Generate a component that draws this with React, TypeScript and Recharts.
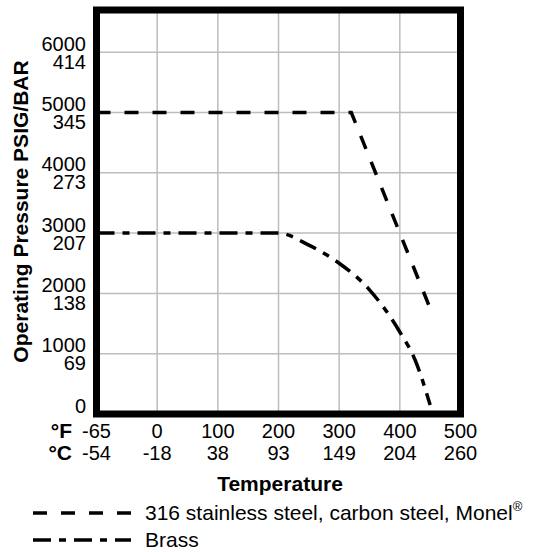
import React from 'react';
import { LineChart, Line, XAxis, YAxis, CartesianGrid, ReferenceArea, Legend, Label } from 'recharts';

// Axis tick labels (evenly spaced temperature slots)
const tickSlots = [0, 1, 2, 3, 4, 5, 6];
const tempLabelsF = ['-65', '0', '100', '200', '300', '400', '500'];
const tempLabelsC = ['-54', '-18', '38', '93', '149', '204', '260'];
const psigTicks = [0, 1000, 2000, 3000, 4000, 5000, 6000];
const psigLabels = ['0', '1000', '2000', '3000', '4000', '5000', '6000'];
const barLabels = ['', '69', '138', '207', '273', '345', '414'];

// Series (°F, PSIG)
const steelName = '316 stainless steel, carbon steel, Monel®';
const steelTempF = [-65, 320, 400, 450];
const steelPsig = [5000, 5000, 3000, 1750];

const brassName = 'Brass';
const brassTempF = [-65, 200, 250, 300, 350, 400, 425, 450];
const brassPsig = [3000, 3000, 2800, 2500, 2060, 1360, 900, 150];

// The printed axis is evenly spaced: -65 | 0 | 100 | ... | 500
const toSlot = (f: number) => (f <= 0 ? (f + 65) / 65 : 1 + f / 100);

const steelData = steelTempF.map((f, i) => ({ slot: toSlot(f), psig: steelPsig[i] }));
const brassData = brassTempF.map((f, i) => ({ slot: toSlot(f), psig: brassPsig[i] }));

const FONT = '"Liberation Sans", Arial, Helvetica, sans-serif';

const YTick = (props: any) => {
  const { y, payload } = props;
  const i = psigTicks.indexOf(payload.value);
  return (
    <g>
      <text x={86} y={y - 1.5} textAnchor="end" fontSize={20} fill="#000">{psigLabels[i]}</text>
      {barLabels[i] ? (
        <text x={86} y={y + 16.5} textAnchor="end" fontSize={20} fill="#000">{barLabels[i]}</text>
      ) : null}
    </g>
  );
};

const XTick = (props: any) => {
  const { x, payload } = props;
  const i = tickSlots.indexOf(payload.value);
  return (
    <g>
      <text x={x} y={438} textAnchor="middle" fontSize={20} fill="#000">{tempLabelsF[i]}</text>
      <text x={x} y={459.5} textAnchor="middle" fontSize={20} fill="#000">{tempLabelsC[i]}</text>
    </g>
  );
};

const XLabel = () => (
  <g>
    <text x={72} y={438} textAnchor="end" fontSize={21} fontWeight="bold" fill="#000">°F</text>
    <text x={72} y={459.5} textAnchor="end" fontSize={21} fontWeight="bold" fill="#000">°C</text>
    <text x={280} y={491} textAnchor="middle" fontSize={21} fontWeight="bold" fill="#000">Temperature</text>
  </g>
);

const YLabel = () => (
  <text transform="translate(28,211.5) rotate(-90)" textAnchor="middle" fontSize={21} fontWeight="bold" fill="#000">
    Operating Pressure PSIG/BAR
  </text>
);

const renderLegend = (props: any) => {
  const payload = props.payload || [];
  return (
    <svg width={534} height={57} style={{ display: 'block' }}>
      {payload.map((entry: any, idx: number) => {
        const dash = entry.payload && entry.payload.strokeDasharray;
        const cy = 18 + idx * 27;
        const name: string = entry.value;
        const parts = name.split('®');
        return (
          <g key={idx}>
            <line x1={33} x2={131} y1={cy} y2={cy} stroke="#000" strokeWidth={3.5} strokeDasharray={dash} />
            <text x={145} y={cy + 7} fontSize={21} fill="#000">
              {parts[0]}
              {parts.length > 1 ? <tspan fontSize={13} dy={-9}>®</tspan> : null}
            </text>
          </g>
        );
      })}
    </svg>
  );
};

export default function App() {
  return (
    <div style={{ position: 'absolute', left: 0, top: 0, fontFamily: FONT, background: '#fff' }}>
      <LineChart width={534} height={552} margin={{ top: 10, right: 73.5, bottom: 78, left: 6.5 }}>
        <CartesianGrid stroke="#bdbdbd" strokeWidth={1.5} horizontalValues={psigTicks} verticalValues={tickSlots} />
        <XAxis
          type="number"
          dataKey="slot"
          domain={[0, 6]}
          ticks={tickSlots}
          axisLine={false}
          tickLine={false}
          tick={<XTick />}
          height={60}
          allowDataOverflow
        >
          <Label content={<XLabel />} />
        </XAxis>
        <YAxis
          type="number"
          domain={[0, 6700]}
          ticks={psigTicks}
          axisLine={false}
          tickLine={false}
          tick={<YTick />}
          width={90}
          allowDataOverflow
        >
          <Label content={<YLabel />} />
        </YAxis>
        <Line
          data={steelData}
          dataKey="psig"
          name={steelName}
          type="linear"
          stroke="#000"
          strokeWidth={3.5}
          strokeDasharray="14 14"
          dot={false}
          activeDot={false}
          isAnimationActive={false}
        />
        <Line
          data={brassData}
          dataKey="psig"
          name={brassName}
          type="monotone"
          stroke="#000"
          strokeWidth={3.5}
          strokeDasharray="18 8 7 8"
          dot={false}
          activeDot={false}
          isAnimationActive={false}
        />
        <ReferenceArea x1={0} x2={6} y1={0} y2={6700} fill="none" stroke="#000" strokeWidth={7} ifOverflow="visible" />
        <Legend
          layout="vertical"
          align="center"
          verticalAlign="middle"
          content={renderLegend}
          wrapperStyle={{ left: 0, top: 495, width: 534, height: 57 }}
        />
      </LineChart>
    </div>
  );
}
